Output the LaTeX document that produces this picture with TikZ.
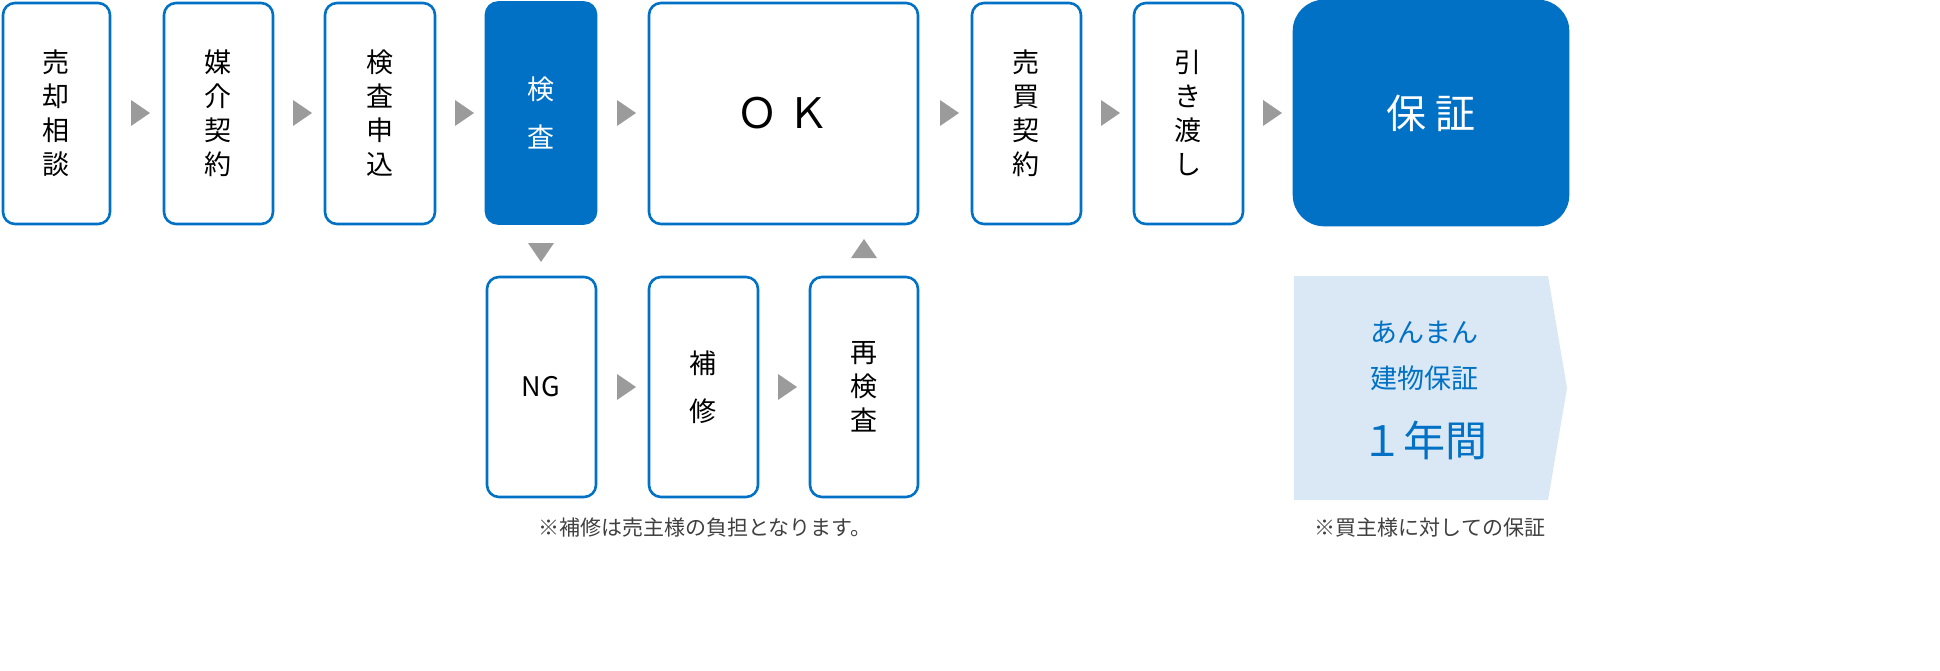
\documentclass[tikz,border=0pt]{standalone}
\usepackage{fontspec}
\setmainfont{Noto Sans CJK JP}
\definecolor{bl}{HTML}{0071C5}
\definecolor{lb}{HTML}{DAE8F5}
\definecolor{gr}{HTML}{9B9B9B}
\begin{document}
\begin{tikzpicture}[x=1pt,y=-1pt,
 box/.style={draw=bl,line width=2.6pt,rounded corners=12pt,fill=white,align=center,font=\fontsize{27}{34}\selectfont,inner sep=0pt},
 tri/.style={fill=gr}]
\useasboundingbox (0,0) rectangle (1940,671);
\newcommand\bx[5]{\node[box,minimum width=#3-#2,minimum height=#5-#4] at ({(#2+#3)/2},{(#4+#5)/2}) (#1) {};}
\bx{a}{3}{110}{3}{224}
\bx{b}{164}{273}{3}{224}
\bx{c}{325}{435}{3}{224}
\node[box,fill=bl,minimum width=110,minimum height=221] at (541,113) (d) {};
\bx{e}{649}{918}{3}{224}
\bx{f}{972}{1081}{3}{224}
\bx{g}{1134}{1243}{3}{224}
\node[box,draw=bl,fill=bl,rounded corners=30pt,minimum width=274,minimum height=224] at (1431,113) (h) {};
\bx{n}{487}{596}{277}{497}
\bx{r}{649}{758}{277}{497}
\bx{s}{810}{918}{277}{497}
\node[font=\fontsize{27}{34}\selectfont,align=center] at (56,113) {売\\却\\相\\談};
\node[font=\fontsize{27}{34}\selectfont,align=center] at (218,113) {媒\\介\\契\\約};
\node[font=\fontsize{27}{34}\selectfont,align=center] at (380,113) {検\\査\\申\\込};
\node[font=\fontsize{27}{48}\selectfont,align=center,text=white] at (541,113) {検\\査};
\node[font=\fontsize{42}{42}\selectfont] at (783,113) {Ｏ Ｋ};
\node[font=\fontsize{27}{34}\selectfont,align=center] at (1026,113) {売\\買\\契\\約};
\node[font=\fontsize{27}{34}\selectfont,align=center] at (1188,113) {引\\き\\渡\\し};
\node[font=\fontsize{40}{40}\selectfont,text=white] at (1431,113) {保 証};
\node[font=\fontsize{27}{34}\selectfont] at (541,387) {NG};
\node[font=\fontsize{27}{48}\selectfont,align=center] at (703,387) {補\\修};
\node[font=\fontsize{27}{34}\selectfont,align=center] at (864,387) {再\\検\\査};
\foreach \x in {131,293,455,617,940,1101,1263}{\fill[gr] (\x,100) -- (\x+19,113) -- (\x,126) -- cycle;}
\foreach \x in {617,778}{\fill[gr] (\x,374) -- (\x+19,387) -- (\x,400) -- cycle;}
\fill[gr] (528,243) -- (554,243) -- (541,262) -- cycle;
\fill[gr] (851,258) -- (877,258) -- (864,239) -- cycle;
\fill[lb] (1294,276) -- (1548,276) -- (1567,388) -- (1548,500) -- (1294,500) -- cycle;
\node[text=bl,font=\fontsize{27}{46}\selectfont,align=center] at (1424,356) {あんまん\\建物保証};
\node[text=bl,font=\fontsize{42}{42}\selectfont] at (1424,440) {１年間};
\node[font=\fontsize{21}{21}\selectfont,text=black!75] at (705,528) {※補修は売主様の負担となります。};
\node[font=\fontsize{21}{21}\selectfont,text=black!75] at (1430,528) {※買主様に対しての保証};
\end{tikzpicture}
\end{document}
